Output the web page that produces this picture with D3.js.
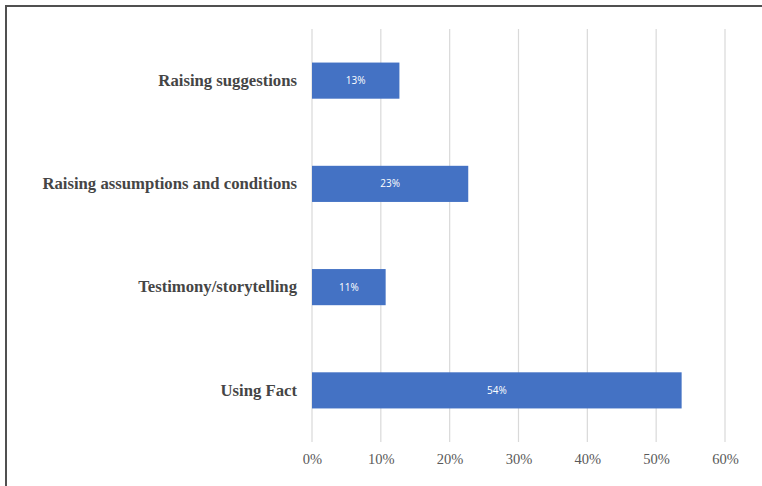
<!DOCTYPE html>
<html>
<head>
<meta charset="utf-8">
<script src="https://cdn.jsdelivr.net/npm/d3@7"></script>
<style>
  html, body { margin: 0; padding: 0; background: #fff; }
  svg { display: block; }
</style>
</head>
<body>
<svg id="chart" width="762" height="486"></svg>
<script>
const categories = ["Raising suggestions", "Raising assumptions and conditions", "Testimony/storytelling", "Using Fact"];
const values = [12.7, 22.7, 10.7, 53.7];
const barLabels = ["13%", "23%", "11%", "54%"];
const tickValues = [0, 10, 20, 30, 40, 50, 60];
const tickLabels = ["0%", "10%", "20%", "30%", "40%", "50%", "60%"];

const svg = d3.select("#chart");
const W = 762, H = 486;

// frame (top and left edges)
svg.append("path")
  .attr("d", `M6,${H} L6,6 L${W},6`)
  .attr("fill", "none")
  .attr("stroke", "#505050")
  .attr("stroke-width", 2);

const x = d3.scaleLinear().domain([0, 60]).range([312, 725]);
const y = d3.scaleBand().domain(categories).range([29, 442]).paddingInner(0.65).paddingOuter(0.325);

// gridlines
svg.append("g").selectAll("line").data(tickValues).join("line")
  .attr("x1", d => x(d)).attr("x2", d => x(d))
  .attr("y1", 29).attr("y2", 442)
  .attr("stroke", "#d9d9d9").attr("stroke-width", 1.2);

// x axis labels
const xAxis = d3.axisBottom(x).tickValues(tickValues)
  .tickFormat((d, i) => tickLabels[i]).tickSize(0).tickPadding(0);
const gx = svg.append("g").attr("transform", "translate(0,454)").call(xAxis);
gx.select(".domain").remove();
gx.selectAll("text")
  .attr("font-family", "'Liberation Serif', 'Times New Roman', serif")
  .attr("font-size", 14.5)
  .attr("fill", "#595959")
  .attr("dy", "0.71em");

// y axis labels
const yAxis = d3.axisLeft(y).tickSize(0).tickPadding(15);
const gy = svg.append("g").attr("transform", "translate(312,0)").call(yAxis);
gy.select(".domain").remove();
gy.selectAll("text")
  .attr("font-family", "'Liberation Serif', 'Times New Roman', serif")
  .attr("font-weight", "bold")
  .attr("font-size", 16.7)
  .attr("fill", "#454545");

// bars
svg.append("g").selectAll("rect").data(categories).join("rect")
  .attr("x", x(0))
  .attr("y", d => y(d))
  .attr("width", (d, i) => x(values[i]) - x(0))
  .attr("height", y.bandwidth())
  .attr("fill", "#4472C4");

// bar labels
svg.append("g").selectAll("text").data(categories).join("text")
  .attr("x", (d, i) => (x(values[i]) + x(0)) / 2)
  .attr("y", d => y(d) + y.bandwidth() / 2)
  .attr("dy", "0.35em")
  .attr("text-anchor", "middle")
  .attr("font-family", "'Open Sans', 'Noto Sans', sans-serif")
  .attr("font-size", 10)
  .attr("fill", "#ffffff")
  .text((d, i) => barLabels[i]);
</script>
</body>
</html>
